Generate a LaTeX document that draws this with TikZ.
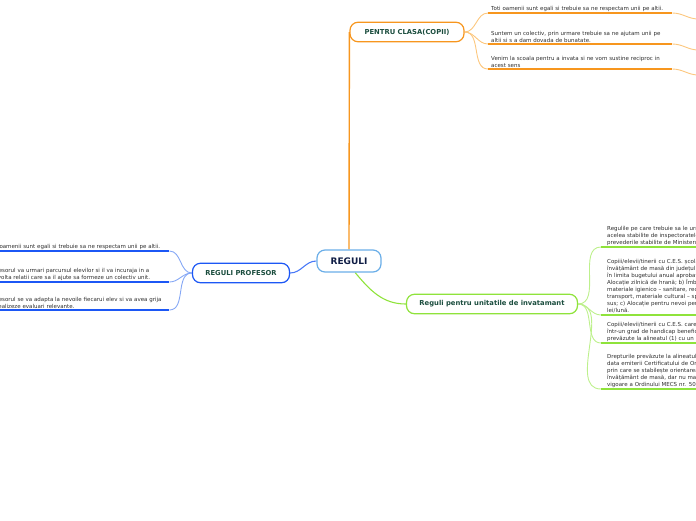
\documentclass[tikz,border=0pt]{standalone}
\usepackage{fontspec}
\setmainfont{DejaVu Sans}
\usetikzlibrary{backgrounds}
\definecolor{RootBorder}{HTML}{6AAEE8}
\definecolor{RootText}{HTML}{0F1D45}
\definecolor{CatText}{HTML}{1B4D3E}
\definecolor{LeafText}{HTML}{2E2E2E}
\definecolor{ClasaOrange}{HTML}{F7961E}
\definecolor{ClasaLight}{HTML}{FCC77E}
\definecolor{ProfBlue}{HTML}{1C57F5}
\definecolor{ProfLight}{HTML}{86A8F5}
\definecolor{UnitGreen}{HTML}{8FE33B}
\definecolor{UnitLight}{HTML}{BDF08C}

\begin{document}
\begin{tikzpicture}[x=1pt,y=-1pt,
  rootbox/.style={draw=RootBorder,line width=1.2pt,rounded corners=8pt,fill=white,minimum width=64pt,minimum height=22pt,font=\fontsize{9}{10}\selectfont\bfseries,text=RootText},
  catbox/.style={line width=1.2pt,rounded corners=8pt,fill=white,minimum height=19.5pt,font=\fontsize{6.8}{8}\selectfont\bfseries,text=CatText},
  leaf/.style={anchor=south west,inner xsep=3pt,inner ysep=1.6pt,text width=178pt,align=left,font=\fontsize{5.5}{7}\selectfont,text=LeafText},
  oconn/.style={ClasaLight,line width=0.9pt},
  bconn/.style={ProfLight,line width=0.9pt},
  gconn/.style={UnitLight,line width=0.9pt},
  uline/.style={line width=1.8pt}]
\useasboundingbox (0,0) rectangle (696,520);
\clip (0,0) rectangle (696,520);
\node[rootbox] (reguli) at (349,261) {REGULI};
\node[catbox,draw=ClasaOrange,minimum width=114pt] (clasa) at (407,32) {PENTRU CLASA(COPII)};
\node[catbox,draw=ProfBlue,minimum width=97pt] (prof) at (241,273) {REGULI PROFESOR};
\node[catbox,draw=UnitGreen,minimum width=171pt] (unit) at (492,304) {Reguli pentru unitatile de invatamant};

\node[leaf] (o1) at (488,13) {Toti oamenii sunt egali si trebuie sa ne respectam unii pe altii.};
\node[leaf] (o2) at (488,44) {Suntem un colectiv, prin urmare trebuie sa ne ajutam unii pe\\altii si s a dam dovada de bunatate.};
\node[leaf] (o3) at (488,69) {Venim la scoala pentru a invata si ne vom sustine reciproc in\\acest sens};

\node[leaf] (b1) at (-15,251) {Toti oamenii sunt egali si trebuie sa ne respectam unii pe altii.};
\node[leaf] (b2) at (-15,282) {Profesorul va urmari parcursul elevilor si il va incuraja in a\\dezvolta relatii care sa il ajute sa formeze un colectiv unit.};
\node[leaf] (b3) at (-15,310) {Profesorul se va adapta la nevoile fiecarui elev si va avea grija\\sa realizeze evaluari relevante.};

\node[leaf,inner xsep=6pt,text width=140pt] (g1) at (601,247) {Regulile pe care trebuie sa le urmeze sunt\\acelea stabilite de inspectoratele\\prevederile stabilite de Ministerul};
\node[leaf,inner xsep=6pt,text width=140pt] (g2) at (601,315) {Copiii/elevii/tinerii cu C.E.S. școlarizați\\învățământ de masă din județul\\în limita bugetului anual aprobat\\Alocație zilnică de hrană; b) Îmbrăcăminte\\materiale igienico – sanitare, rechizite\\transport, materiale cultural – sportive\\sus; c) Alocație pentru nevoi personale\\lei/lună.};
\node[leaf,inner xsep=6pt,text width=140pt] (g3) at (601,343) {Copiii/elevii/tinerii cu C.E.S. care\\într-un grad de handicap beneficiază\\prevăzute la alineatul (1) cu un};
\node[leaf,inner xsep=6pt,text width=140pt] (g4) at (601,389) {Drepturile prevăzute la alineatul\\data emiterii Certificatului de Orientare\\prin care se stabilește orientarea\\învățământ de masă, dar nu mai\\vigoare a Ordinului MECS nr. 5086};

\begin{scope}[on background layer]
\draw[ClasaOrange,line width=1.4pt] (reguli.north) -- (clasa.west);
\draw[ProfBlue!80,line width=1.1pt] (reguli.west) to[out=180,in=0] (prof.east);
\draw[UnitGreen,line width=1.1pt] (reguli.-62) to[out=-50,in=180] (unit.west);
\foreach \n in {o1,o2,o3} {
  \draw[oconn] (clasa.east) to[out=0,in=180] (\n.south west);
  \draw[uline,ClasaOrange] (\n.south west) -- (\n.south east);
  \draw[oconn] (\n.south east) to[out=0,in=180] ++(26,6);
}
\foreach \n in {b1,b2,b3} {
  \draw[bconn] (prof.west) to[out=180,in=0] (\n.south east);
  \draw[uline,ProfBlue] (\n.south west) -- (\n.south east);
}
\foreach \n in {g1,g2,g3,g4} {
  \draw[gconn] (unit.east) to[out=0,in=180] (\n.south west);
  \draw[uline,UnitGreen] (\n.south west) -- (\n.south east);
}
\end{scope}
\end{tikzpicture}
\end{document}
